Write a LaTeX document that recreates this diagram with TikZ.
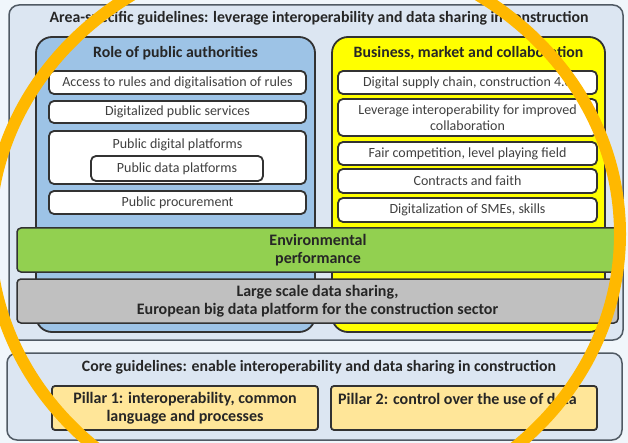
\documentclass[tikz,border=0pt]{standalone}
\usepackage{fontspec}
\setmainfont{Carlito}
\definecolor{pagebg}{RGB}{240,246,251}
\definecolor{panelbg}{RGB}{220,230,242}
\definecolor{panelline}{RGB}{80,90,100}
\definecolor{pubblue}{RGB}{157,195,230}
\definecolor{bizyellow}{RGB}{255,255,0}
\definecolor{envgreen}{RGB}{146,208,80}
\definecolor{datagray}{RGB}{192,192,192}
\definecolor{pillarfill}{RGB}{255,230,153}
\definecolor{boxline}{RGB}{50,50,50}
\definecolor{textdark}{RGB}{38,38,38}
\definecolor{textgray}{RGB}{64,64,64}
\definecolor{ringcol}{RGB}{255,184,0}
\tikzset{
  span/.style n args={4}{at={({(#1+#3)/2},{(#2+#4)/2})},
    minimum width={(#3-#1)*1pt}, minimum height={(#4-#2)*1pt}},
  panel/.style={draw=panelline, line width=1.5pt, fill=panelbg, rounded corners=10pt},
  group/.style={draw=boxline, line width=1.8pt, rounded corners=16pt},
  item/.style={draw=boxline, line width=1.8pt, fill=white, rounded corners=5pt,
    text=textgray, align=center, font=\fontsize{14}{16}\selectfont, inner sep=0pt},
  bar/.style={draw=boxline, line width=1.5pt, rounded corners=4pt,
    text=textdark, align=center, font=\bfseries\fontsize{16}{18}\selectfont, inner sep=0pt},
  pillar/.style={draw=boxline, line width=1.8pt, fill=pillarfill, rounded corners=3pt,
    text=textdark, font=\bfseries\fontsize{16}{18}\selectfont, inner sep=0pt},
  heading/.style={text=textdark, font=\bfseries\fontsize{15.8}{18}\selectfont, inner sep=0pt},
  ring/.style={draw=ringcol, line width=12pt}
}
\begin{document}
\begin{tikzpicture}[x=1pt,y=-1pt]
\useasboundingbox (0,0) rectangle (628,443);
\fill[pagebg] (0,0) rectangle (628,443);
\clip (0,0) rectangle (628,443);

% area-specific guidelines panel
\node[panel, span={9}{5}{623}{340}] (area) {};
\node[heading] (areatitle) at (319,18) {Area-specific guidelines: leverage interoperability and data sharing in construction};

% role of public authorities
\node[group, fill=pubblue, span={36}{37}{315}{332}] (pub) {};
\node[heading] (pubtitle) at (175.5,53) {Role of public authorities};
\node[item, span={49}{71}{306}{94}] (p1) {Access to rules and digitalisation of rules};
\node[item, span={49}{101}{306}{123}] (p2) {Digitalized public services};
\node[item, span={49}{131}{306}{184}] (p3) {};
\node[text=textgray, font=\fontsize{14}{16}\selectfont, inner sep=0pt] (p3t) at (177.5,145) {Public digital platforms};
\node[item, span={91}{156}{263}{181}] (p3in) {Public data platforms};
\node[item, span={49}{191}{306}{214}] (p4) {Public procurement};

% business, market and collaboration
\node[group, fill=bizyellow, span={332}{37}{605}{332}] (biz) {};
\node[heading] (biztitle) at (468.5,53) {Business, market and collaboration};
\node[item, span={338}{71}{597}{94}] (b1) {Digital supply chain, construction 4.0};
\node[item, span={338}{99}{597}{136}] (b2) {Leverage interoperability for improved\\collaboration};
\node[item, span={338}{142}{597}{165}] (b3) {Fair competition, level playing field};
\node[item, span={338}{169}{597}{193}] (b4) {Contracts and faith};
\node[item, span={338}{198}{597}{222}] (b5) {Digitalization of SMEs, skills};

% cross-cutting bars
\node[bar, fill=envgreen, span={17}{228}{619}{272}] (env) {Environmental\\performance};
\node[bar, fill=datagray, span={17}{279}{618}{323}] (data) {Large scale data sharing,\\European big data platform for the construction sector};

% core guidelines panel
\node[panel, span={7}{353}{622}{440}] (core) {};
\node[heading] (coretitle) at (319,367) {Core guidelines: enable interoperability and data sharing in construction};
\node[pillar, align=center, span={52}{386}{318}{430}] (pil1) {Pillar 1: interoperability, common\\language and processes};
\node[pillar, span={331}{386}{597}{430}] (pil2) {};
\node[text=textdark, font=\bfseries\fontsize{16}{18}\selectfont, inner sep=0pt, anchor=west] (pil2t) at (338,399) {Pillar 2: control over the use of data};

% highlight ring
\draw[ring] (305,234) ellipse [x radius=315, y radius=286];
\end{tikzpicture}
\end{document}
